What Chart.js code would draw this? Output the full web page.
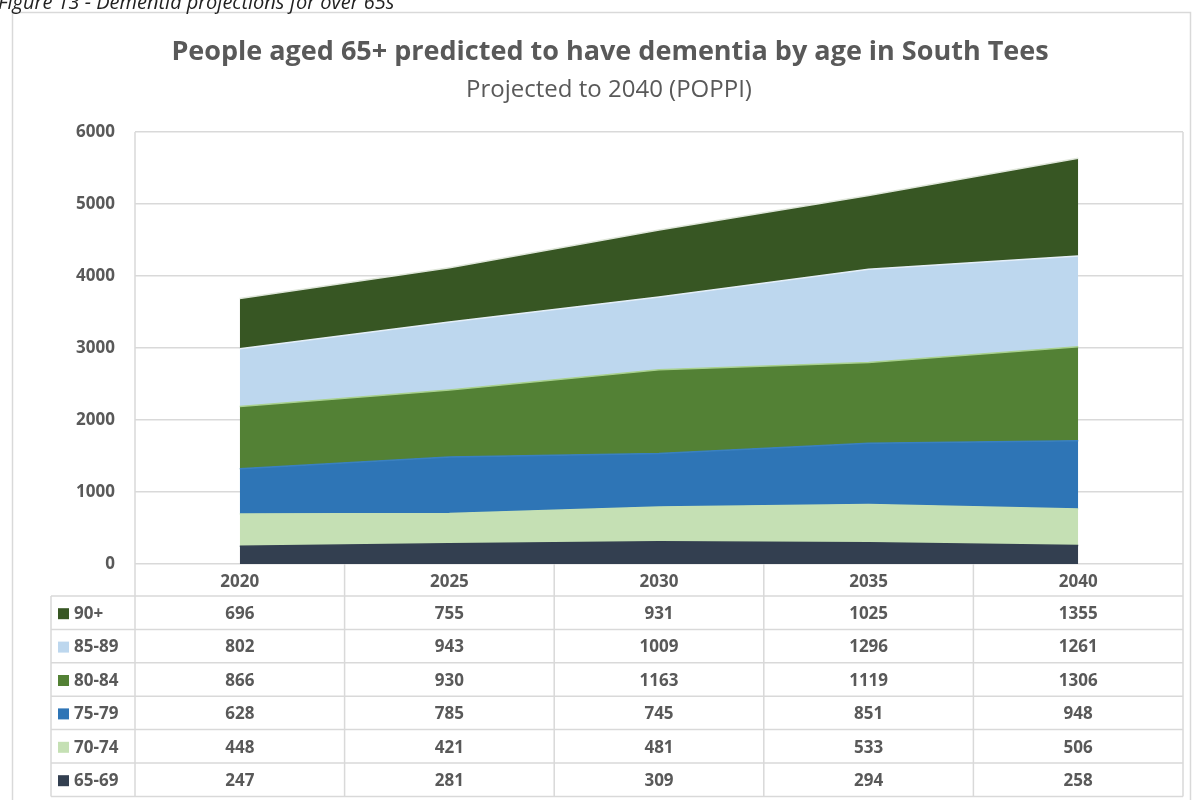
<!DOCTYPE html>
<html>
<head>
<meta charset="utf-8">
<script src="https://cdn.jsdelivr.net/npm/chart.js@4.4.1/dist/chart.umd.min.js"></script>
<style>
  html, body { margin: 0; padding: 0; background: #fff; }
  canvas { display: block; }
</style>
</head>
<body>
<canvas id="chart" width="1197" height="800"></canvas>
<script>
const years = ["2020", "2025", "2030", "2035", "2040"];
const age6569 = [247, 281, 309, 294, 258];
const age7074 = [448, 421, 481, 533, 506];
const age7579 = [628, 785, 745, 851, 948];
const age8084 = [866, 930, 1163, 1119, 1306];
const age8589 = [802, 943, 1009, 1296, 1261];
const age90plus = [696, 755, 931, 1025, 1355];
const yTicks = [0, 1000, 2000, 3000, 4000, 5000, 6000];

const fontFamily = "'Open Sans', Lato, sans-serif";
const textColor = "#595959";
const lineColor = "#d9d9d9";

// bottom to top, same as the stacking order
const series = [
  { label: "65-69", data: age6569, color: "#333f50", border: "#333f50" },
  { label: "70-74", data: age7074, color: "#c5e0b4", border: "#c5e0b4" },
  { label: "75-79", data: age7579, color: "#2e75b6", border: "#3a80c0" },
  { label: "80-84", data: age8084, color: "#538135", border: "#a9d18e" },
  { label: "85-89", data: age8589, color: "#bdd7ee", border: "#e4eef8" },
  { label: "90+", data: age90plus, color: "#375623", border: "#dfe6da" },
];

// Frame, caption and titles
const backdrop = {
  id: "backdrop",
  beforeDraw(chart) {
    const ctx = chart.ctx;
    ctx.save();
    ctx.fillStyle = "#fff";
    ctx.fillRect(0, 0, chart.width, chart.height);
    ctx.strokeStyle = lineColor;
    ctx.lineWidth = 1.5;
    ctx.strokeRect(12.5, 12.5, 1178, 800);

    ctx.fillStyle = "#222";
    ctx.font = "italic 20px " + fontFamily;
    ctx.textBaseline = "alphabetic";
    ctx.textAlign = "left";
    ctx.fillText("Figure 13 - Dementia projections for over 65s", -2, 9);

    ctx.fillStyle = textColor;
    ctx.textAlign = "center";
    ctx.font = "bold 27px " + fontFamily;
    ctx.fillText("People aged 65+ predicted to have dementia by age in South Tees", 610, 60);
    ctx.font = "24px " + fontFamily;
    ctx.fillText("Projected to 2040 (POPPI)", 609, 97);
    ctx.restore();
  },
};

// Plot border plus the data table under the x axis
const dataTable = {
  id: "dataTable",
  afterDraw(chart) {
    const ctx = chart.ctx;
    const x = chart.scales.x;
    const area = chart.chartArea;
    const colW = (area.right - area.left) / years.length;
    const headTop = area.bottom;
    const headH = 32;
    const rowH = 33.4;
    const labelLeft = 51;
    const rows = series.slice().reverse();
    const tableBottom = headTop + headH + rowH * rows.length;

    ctx.save();
    ctx.strokeStyle = lineColor;
    ctx.lineWidth = 1.5;

    // plot sides
    ctx.beginPath();
    ctx.moveTo(area.left, area.top);
    ctx.lineTo(area.left, tableBottom);
    ctx.moveTo(area.right, area.top);
    ctx.lineTo(area.right, tableBottom);
    for (let i = 1; i < years.length; i++) {
      const cx = area.left + colW * i;
      ctx.moveTo(cx, headTop);
      ctx.lineTo(cx, tableBottom);
    }
    ctx.moveTo(labelLeft, headTop + headH);
    ctx.lineTo(labelLeft, tableBottom);
    for (let r = 0; r <= rows.length; r++) {
      const ry = headTop + headH + rowH * r;
      ctx.moveTo(labelLeft, ry);
      ctx.lineTo(area.right, ry);
    }
    ctx.stroke();

    ctx.fillStyle = textColor;
    ctx.font = "bold 17px " + fontFamily;
    ctx.textAlign = "center";
    ctx.textBaseline = "middle";
    years.forEach((yr, i) => {
      ctx.fillText(yr, x.getPixelForValue(i), headTop + headH / 2 + 2);
    });

    rows.forEach((s, r) => {
      const cy = headTop + headH + rowH * r + rowH / 2 + 1.5;
      s.data.forEach((v, i) => {
        ctx.fillStyle = textColor;
        ctx.textAlign = "center";
        ctx.fillText(String(v), x.getPixelForValue(i), cy);
      });
      ctx.fillStyle = s.color;
      ctx.fillRect(58, cy - 6, 11, 11);
      ctx.fillStyle = textColor;
      ctx.textAlign = "left";
      ctx.fillText(s.label, 74, cy);
    });
    ctx.restore();
  },
};

new Chart(document.getElementById("chart"), {
  type: "line",
  data: {
    labels: years,
    datasets: series.map((s, i) => ({
      label: s.label,
      data: s.data,
      backgroundColor: s.color,
      borderColor: s.border,
      borderWidth: 1.5,
      pointRadius: 0,
      tension: 0,
      fill: i === 0 ? "origin" : "-1",
    })),
  },
  options: {
    responsive: false,
    animation: false,
    layout: { padding: { top: 132, right: 14, bottom: 0, left: 0 } },
    plugins: {
      legend: { display: false },
      title: { display: false },
      tooltip: { enabled: false },
      filler: { propagate: false },
    },
    scales: {
      x: {
        type: "category",
        offset: true,
        grid: { display: false },
        border: { display: false },
        ticks: { display: false },
        afterFit: (scale) => { scale.height = 236; },
      },
      y: {
        stacked: true,
        min: 0,
        max: 6000,
        afterBuildTicks: (scale) => { scale.ticks = yTicks.map((v) => ({ value: v })); },
        grid: { color: lineColor, lineWidth: 1.5, drawTicks: false },
        border: { display: false },
        ticks: {
          color: textColor,
          font: { family: fontFamily, size: 17, weight: "bold" },
          padding: 20,
          callback: (value) => String(value),
        },
        afterFit: (scale) => { scale.width = 135; },
      },
    },
  },
  plugins: [backdrop, dataTable],
});
</script>
</body>
</html>
